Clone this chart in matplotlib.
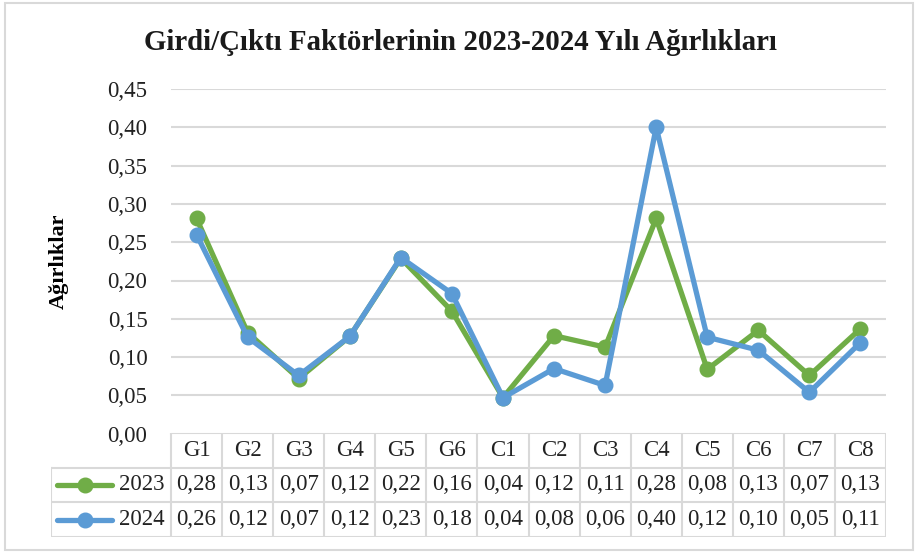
import math

import numpy as np
import matplotlib
matplotlib.use("Agg")
import matplotlib.pyplot as plt
import matplotlib.patches as mpatches
from matplotlib.ticker import FuncFormatter

plt.rcParams['font.family'] = ['Liberation Serif', 'DejaVu Serif']

factors = ["G1", "G2", "G3", "G4", "G5", "G6", "C1", "C2", "C3", "C4", "C5", "C6", "C7", "C8"]
w2023 = [0.281, 0.132, 0.072, 0.127, 0.229, 0.160, 0.047, 0.128, 0.113, 0.281, 0.084, 0.135, 0.076, 0.137]
w2024 = [0.260, 0.126, 0.076, 0.127, 0.230, 0.183, 0.047, 0.085, 0.063, 0.400, 0.126, 0.109, 0.054, 0.119]
years = ["2023", "2024"]
colors = ["#70AD47", "#5B9BD5"]

W, H = 915, 552
grid_col = "#d9d9d9"


def fx(px):
    return px / W


def fy(py):
    return 1 - py / H


def trunc2(v):
    # table shows the weights cut to two decimals, with a comma
    return "{:.2f}".format(math.floor(v * 100 + 1e-6) / 100).replace(".", ",")


fig = plt.figure(figsize=(W / 100, H / 100), dpi=100)

# frame around the whole chart
fig.patches.append(mpatches.Rectangle((fx(5), fy(550)), fx(908), 547 / H,
                                      transform=fig.transFigure, fill=False,
                                      edgecolor=grid_col, linewidth=1.5))

left, right, top, bottom = 171, 886, 89, 433.7
ax = fig.add_axes([fx(left), fy(bottom), fx(right - left), (bottom - top) / H])
x = np.arange(len(factors))
for vals, c in zip([w2023, w2024], colors):
    ax.plot(x, vals, color=c, lw=3.8, marker="o", ms=10.5, solid_capstyle="round",
            clip_on=False)
ax.set_xlim(-0.5, len(factors) - 0.5)
ax.set_ylim(0, 0.45)
ax.set_yticks(np.arange(0, 0.451, 0.05))
ax.yaxis.set_major_formatter(FuncFormatter(lambda v, p: "{:.2f}".format(v).replace(".", ",")))
ax.tick_params(axis="y", length=0, labelsize=16.5, pad=17, colors="#222222")
ax.set_xticks([])
for s in ax.spines.values():
    s.set_visible(False)
ax.grid(axis="y", color=grid_col, lw=1.5)
ax.set_axisbelow(True)
ax.set_ylabel("Ağırlıklar", fontsize=16, fontweight="bold", labelpad=28)

fig.text(fx(460), fy(43), "Girdi/Çıktı Faktörlerinin 2023-2024 Yılı Ağırlıkları",
         ha="center", va="center", fontsize=20.8, fontweight="bold", color="#1a1a1a")

# data table under the plot
colw = (right - left) / len(factors)
t_left, t_top, t_bot = 51, 433, 537
tab = fig.add_axes([fx(t_left), fy(t_bot), fx(right - t_left), (t_bot - t_top) / H])
xmin = -0.5 - (left - t_left) / colw
tab.set_xlim(xmin, len(factors) - 0.5)
tab.set_ylim(3, 0)
tab.axis("off")

lk = dict(color=grid_col, lw=1.5, solid_capstyle="projecting")
tab.plot([-0.5, len(factors) - 0.5], [0, 0], **lk)
for r in (1, 2, 3):
    tab.plot([xmin, len(factors) - 0.5], [r, r], **lk)
for i in range(len(factors) + 1):
    tab.plot([i - 0.5, i - 0.5], [0, 3], **lk)
tab.plot([xmin, xmin], [1, 3], **lk)

for i, name in enumerate(factors):
    tab.text(i, 0.5, name, ha="center", va="center", fontsize=16.5, color="#222222")

for r, (yr, vals, c) in enumerate(zip(years, [w2023, w2024], colors), start=1):
    yc = r + 0.5
    x0 = xmin + 6 / colw
    x1 = xmin + 61 / colw
    tab.plot([x0, x1], [yc, yc], color=c, lw=3.8, solid_capstyle="round")
    tab.plot([(x0 + x1) / 2], [yc], color=c, marker="o", ms=10.5)
    tab.text(-0.5 - 6 / colw, yc, yr, ha="right", va="center", fontsize=16.5, color="#222222")
    for i, v in enumerate(vals):
        tab.text(i, yc, trunc2(v), ha="center", va="center", fontsize=16.5, color="#222222")

fig.savefig("out.png", dpi=100)
